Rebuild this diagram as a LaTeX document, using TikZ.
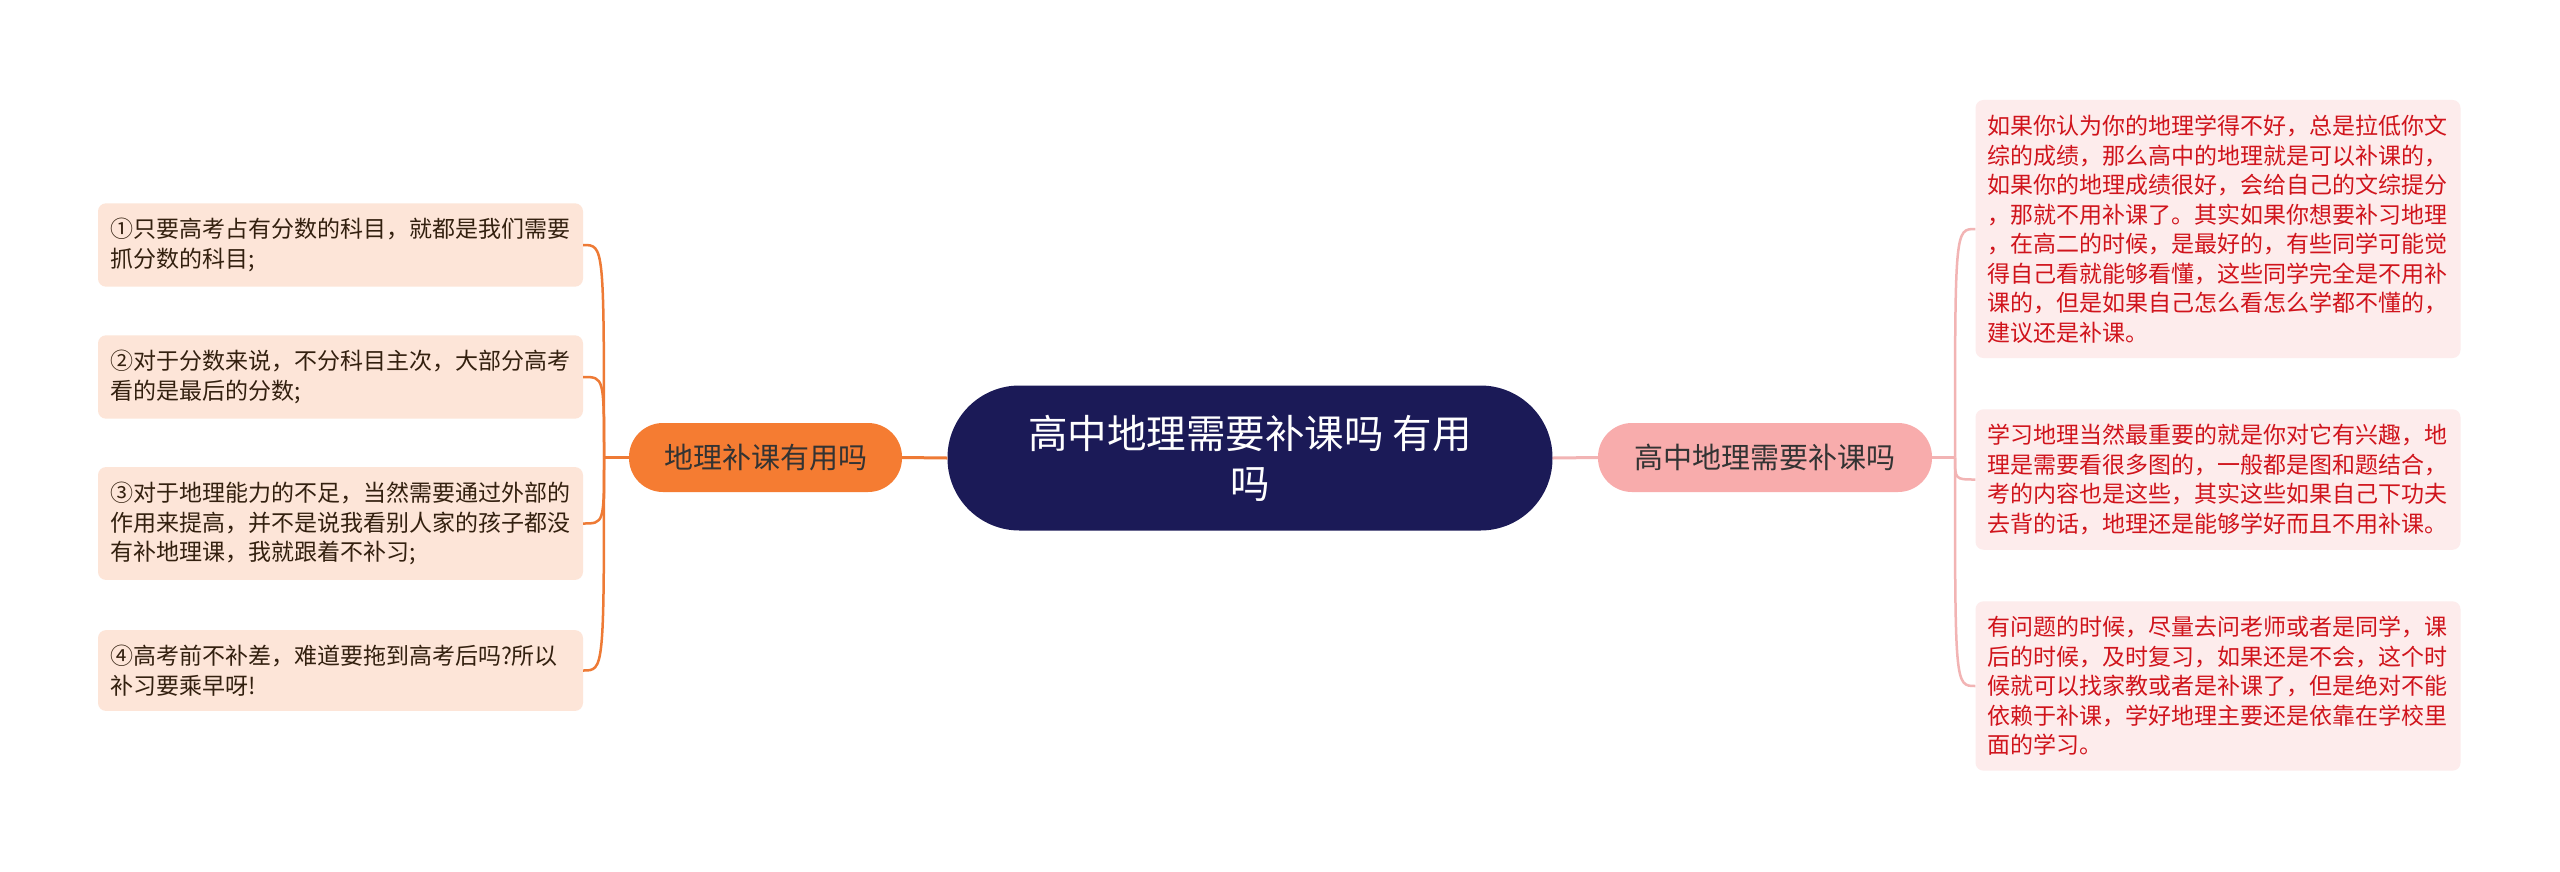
\documentclass[tikz,border=0pt]{standalone}
\usepackage{fontspec}
\newfontfamily\cjkfont{Noto Sans CJK SC}
\usetikzlibrary{positioning}
\definecolor{rootfill}{HTML}{1B1A57}
\definecolor{leftmain}{HTML}{F57C32}
\definecolor{leftline}{HTML}{EE7A35}
\definecolor{leftfill}{HTML}{FDE5D8}
\definecolor{lefttext}{HTML}{33200F}
\definecolor{rightmain}{HTML}{F8ACAC}
\definecolor{rightline}{HTML}{F2B4B4}
\definecolor{rightfill}{HTML}{FDECEC}
\definecolor{righttext}{HTML}{D0141C}
\tikzset{
    leaf box/.style={rounded corners=8pt,inner xsep=12pt,inner ysep=15pt,text width=461pt,align=left,
        font=\cjkfont\fontsize{23}{29.5}\selectfont},
    left leaf/.style={leaf box,fill=leftfill,text=lefttext},
    right leaf/.style={leaf box,fill=rightfill,text=righttext},
    branch box/.style={rounded corners=34pt,minimum height=69pt,inner xsep=0pt,text=black!80,
        font=\cjkfont\fontsize{29}{34}\selectfont},
    root box/.style={rounded corners=72pt,minimum width=605pt,minimum height=145pt,fill=rootfill,
        text=white,align=center,font=\cjkfont\fontsize{39.5}{50}\selectfont},
    left line/.style={draw=leftline,line width=2.5pt},
    right line/.style={draw=rightline,line width=2.5pt},
}

\begin{document}
\begin{tikzpicture}[x=1pt,y=-1pt]
        \useasboundingbox[fill=white] (0,0) rectangle (2560,871);
        \node[root box] (root) at (1250,458) {高中地理需要补课吗 有用\\吗};
        \node[branch box,fill=leftmain,minimum width=273pt] (lmain) at (765.5,457.5) {地理补课有用吗};
        \node[branch box,fill=rightmain,minimum width=334pt] (rmain) at (1765,457.5) {高中地理需要补课吗};
        \coordinate (jl) at (604,457.5);
        \coordinate (jr) at (1955,457.5);

        \node[left leaf] (l1) at (340.5,245) {①只要高考占有分数的科目，就都是我们需要\\抓分数的科目;};
        \node[left leaf] (l2) at (340.5,377) {②对于分数来说，不分科目主次，大部分高考\\看的是最后的分数;};
        \node[left leaf] (l3) at (340.5,523.5) {③对于地理能力的不足，当然需要通过外部的\\作用来提高，并不是说我看别人家的孩子都没\\有补地理课，我就跟着不补习;};
        \node[left leaf] (l4) at (340.5,670.5) {④高考前不补差，难道要拖到高考后吗?所以\\补习要乘早呀!};

        \node[right leaf] (r1) at (2218,229) {如果你认为你的地理学得不好，总是拉低你文\\综的成绩，那么高中的地理就是可以补课的，\\如果你的地理成绩很好，会给自己的文综提分\\，那就不用补课了。其实如果你想要补习地理\\，在高二的时候，是最好的，有些同学可能觉\\得自己看就能够看懂，这些同学完全是不用补\\课的，但是如果自己怎么看怎么学都不懂的，\\建议还是补课。};
        \node[right leaf] (r2) at (2218,479.5) {学习地理当然最重要的就是你对它有兴趣，地\\理是需要看很多图的，一般都是图和题结合，\\考的内容也是这些，其实这些如果自己下功夫\\去背的话，地理还是能够学好而且不用补课。};
        \node[right leaf] (r3) at (2218,686) {有问题的时候，尽量去问老师或者是同学，课\\后的时候，及时复习，如果还是不会，这个时\\候就可以找家教或者是补课了，但是绝对不能\\依赖于补课，学好地理主要还是依靠在学校里\\面的学习。};

        \draw[left line,line width=3pt] (root.west) -- (lmain.east);
        \draw[right line,line width=3pt] (root.east) -- (rmain.west);
        \draw[left line] (lmain.west) -- (jl);
        \draw[right line] (rmain.east) -- (jr);
        \foreach \n in {l1,l2,l3,l4}
            \draw[left line] (jl) .. controls (jl|-\n.east) and (jl|-\n.east) .. (\n.east);
        \foreach \n in {r1,r2,r3}
            \draw[right line] (jr) .. controls (jr|-\n.west) and (jr|-\n.west) .. (\n.west);
    \end{tikzpicture}
\end{document}
